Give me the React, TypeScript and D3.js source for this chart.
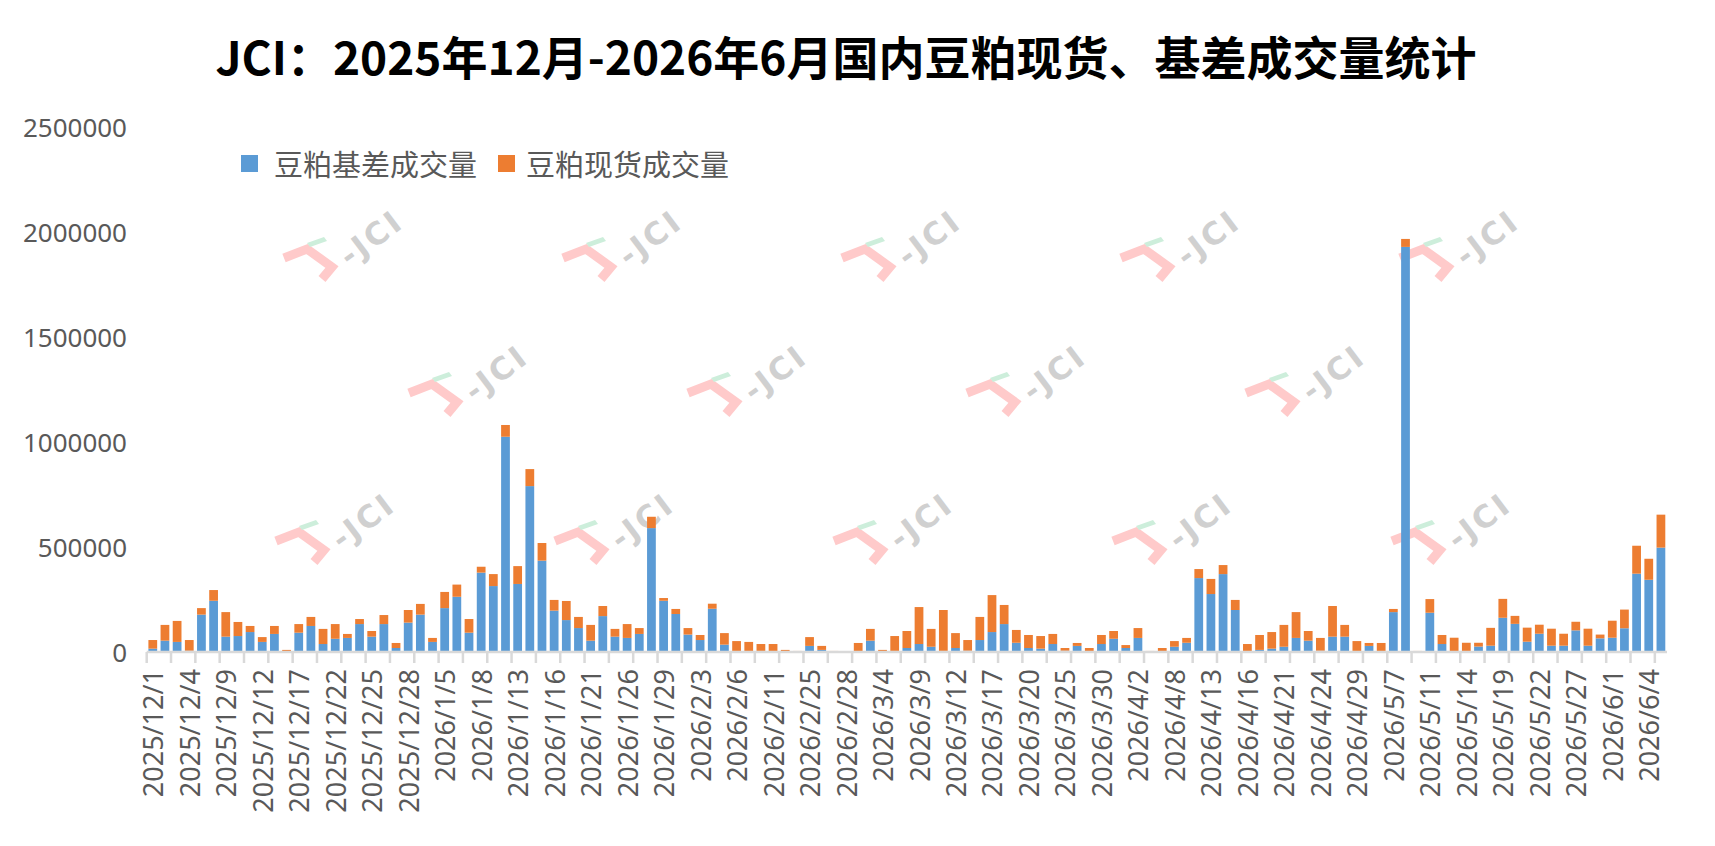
import * as d3 from 'd3';

const dates = [
  '2025/12/1', '2025/12/2', '2025/12/3', '2025/12/4', '2025/12/5', '2025/12/8', '2025/12/9', '2025/12/10',
  '2025/12/11', '2025/12/12', '2025/12/15', '2025/12/16', '2025/12/17', '2025/12/18', '2025/12/19', '2025/12/22',
  '2025/12/23', '2025/12/24', '2025/12/25', '2025/12/26', '2025/12/27', '2025/12/28', '2025/12/30', '2025/12/31',
  '2026/1/5', '2026/1/6', '2026/1/7', '2026/1/8', '2026/1/9', '2026/1/12', '2026/1/13', '2026/1/14',
  '2026/1/15', '2026/1/16', '2026/1/19', '2026/1/20', '2026/1/21', '2026/1/22', '2026/1/23', '2026/1/26',
  '2026/1/27', '2026/1/28', '2026/1/29', '2026/1/30', '2026/2/2', '2026/2/3', '2026/2/4', '2026/2/5',
  '2026/2/6', '2026/2/9', '2026/2/10', '2026/2/11', '2026/2/12', '2026/2/24', '2026/2/25', '2026/2/26',
  '2026/2/27', '2026/2/28', '2026/3/2', '2026/3/3', '2026/3/4', '2026/3/5', '2026/3/6', '2026/3/9',
  '2026/3/10', '2026/3/11', '2026/3/12', '2026/3/13', '2026/3/16', '2026/3/17', '2026/3/18', '2026/3/19',
  '2026/3/20', '2026/3/23', '2026/3/24', '2026/3/25', '2026/3/26', '2026/3/27', '2026/3/30', '2026/3/31',
  '2026/4/1', '2026/4/2', '2026/4/3', '2026/4/7', '2026/4/8', '2026/4/9', '2026/4/10', '2026/4/13',
  '2026/4/14', '2026/4/15', '2026/4/16', '2026/4/17', '2026/4/20', '2026/4/21', '2026/4/22', '2026/4/23',
  '2026/4/24', '2026/4/27', '2026/4/28', '2026/4/29', '2026/4/30', '2026/5/6', '2026/5/7', '2026/5/8',
  '2026/5/9', '2026/5/11', '2026/5/12', '2026/5/13', '2026/5/14', '2026/5/15', '2026/5/18', '2026/5/19',
  '2026/5/20', '2026/5/21', '2026/5/22', '2026/5/25', '2026/5/26', '2026/5/27', '2026/5/28', '2026/5/29',
  '2026/6/1', '2026/6/2', '2026/6/3', '2026/6/4', '2026/6/5',
];

// 豆粕基差成交量 (blue)
const basisVolume = [
  16000, 54000, 48000, 6000, 178000, 244000, 73000, 76000, 95000, 48000,
  86000, 0, 92000, 124000, 38000, 63000, 67000, 133000, 73000, 133000,
  19000, 140000, 178000, 48000, 209000, 263000, 92000, 378000, 314000, 1025000,
  324000, 790000, 435000, 197000, 152000, 114000, 54000, 171000, 73000, 67000,
  86000, 590000, 244000, 181000, 83000, 57000, 206000, 35000, 0, 0,
  5000, 0, 0, 0, 29000, 10000, 0, 0, 0, 54000,
  0, 5000, 19000, 38000, 25000, 5000, 19000, 6000, 57000, 95000,
  133000, 44000, 19000, 16000, 38000, 6000, 29000, 0, 38000, 63000,
  19000, 67000, 0, 0, 25000, 44000, 352000, 276000, 371000, 200000,
  0, 10000, 16000, 25000, 67000, 54000, 6000, 73000, 73000, 0,
  29000, 0, 190000, 1929000, 0, 187000, 38000, 0, 0, 26000,
  30000, 163000, 134000, 49000, 87000, 30000, 30000, 103000, 30000, 65000,
  68000, 113000, 373000, 344000, 497000,
];

// 豆粕现货成交量 (orange)
const spotVolume = [
  41000, 75000, 100000, 51000, 31000, 51000, 117000, 67000, 29000, 23000,
  38000, 10000, 41000, 43000, 72000, 70000, 19000, 24000, 27000, 43000,
  24000, 60000, 51000, 19000, 77000, 58000, 65000, 28000, 57000, 56000,
  85000, 81000, 84000, 51000, 91000, 53000, 75000, 48000, 37000, 66000,
  28000, 54000, 13000, 24000, 31000, 24000, 24000, 55000, 52000, 48000,
  33000, 38000, 10000, 5000, 42000, 19000, 5000, 0, 43000, 56000,
  10000, 71000, 81000, 176000, 85000, 195000, 71000, 51000, 110000, 176000,
  91000, 61000, 62000, 60000, 48000, 13000, 14000, 19000, 43000, 37000,
  14000, 47000, 5000, 19000, 27000, 23000, 43000, 72000, 43000, 48000,
  38000, 71000, 79000, 104000, 123000, 46000, 61000, 146000, 56000, 52000,
  14000, 43000, 15000, 38000, 5000, 65000, 43000, 68000, 44000, 18000,
  85000, 90000, 38000, 67000, 43000, 81000, 57000, 41000, 81000, 18000,
  81000, 89000, 133000, 100000, 157000,
];

const yTicks = [0, 500000, 1000000, 1500000, 2000000, 2500000];
const seriesNames = ['豆粕基差成交量', '豆粕现货成交量'];
const seriesColors = ['#5B9BD5', '#ED7D31'];
const title = 'JCI：2025年12月-2026年6月国内豆粕现货、基差成交量统计';

const W = 1715;
const H = 846;
const plotLeft = 146.7;
const plotRight = 1667;
const plotTop = 127;
const plotBottom = 652;
const font = '"Noto Sans", "Noto Sans CJK SC", sans-serif';
const textColor = '#595959';

type Row = { date: string; basis: number; spot: number };
const rows: Row[] = dates.map((d, i) => ({ date: d, basis: basisVolume[i], spot: spotVolume[i] }));

function Watermark({ cx, cy }: { cx: number; cy: number }) {
  return (
    <g transform={`translate(${cx},${cy})`}>
      <polyline
        points="-61,16 -38,7 -13,25 -23,37"
        fill="none"
        stroke="#ffcaca"
        strokeWidth={9}
        strokeLinejoin="miter"
      />
      <path d="M-38,1 L-21,-5 L-18,-1 L-35,5 Z" fill="#cdeedb" />
      <text
        x={26}
        y={-4}
        transform="rotate(-37 26 -4)"
        textAnchor="middle"
        dominantBaseline="central"
        fontFamily='"DejaVu Sans", sans-serif'
        fontWeight="bold"
        fontSize={31}
        letterSpacing={3}
        fill="#d0d0d0"
      >
        -JCI
      </text>
    </g>
  );
}

export default function App() {
  const x = d3.scaleBand<string>()
    .domain(dates)
    .range([plotLeft, plotRight])
    .paddingInner(0.28)
    .paddingOuter(0.14);

  const y = d3.scaleLinear()
    .domain([0, 2500000])
    .range([plotBottom, plotTop]);

  const stacked = d3.stack<Row>().keys(['basis', 'spot'])(rows);

  const step = x.step();
  const tickXs = d3.range(0, dates.length, 2).map((k) => plotLeft + k * step);

  const wmRows = [
    { cy: 242, x0: 345, n: 5 },
    { cy: 377, x0: 470, n: 4 },
    { cy: 525, x0: 337, n: 5 },
  ];

  const legendPos = [
    { sx: 241, tx: 274 },
    { sx: 498, tx: 526 },
  ];

  return (
    <svg
      width={W}
      height={H}
      viewBox={`0 0 ${W} ${H}`}
      style={{ position: 'absolute', left: 0, top: 0, background: '#fff' }}
    >
      <rect width={W} height={H} fill="#fff" />
      <text
        x={846}
        y={55}
        textAnchor="middle"
        dominantBaseline="central"
        fontFamily='"Noto Sans CJK SC", sans-serif'
        fontWeight="bold"
        fontSize={46}
        fill="#000"
      >
        {title}
      </text>

      {/* watermark grid */}
      {wmRows.map((r, ri) =>
        d3.range(r.n).map((k) => (
          <Watermark key={`${ri}-${k}`} cx={r.x0 + k * 279} cy={r.cy} />
        )),
      )}

      {/* y axis labels */}
      {yTicks.map((t) => (
        <text
          key={t}
          x={127}
          y={y(t)}
          textAnchor="end"
          dominantBaseline="central"
          fontFamily={font}
          fontSize={26}
          fill={textColor}
        >
          {t}
        </text>
      ))}

      {/* bars */}
      {stacked.map((s, si) => (
        <g key={s.key} fill={seriesColors[si]}>
          {s.map((d, i) => (
            <rect
              key={i}
              x={x(dates[i])}
              width={x.bandwidth()}
              y={y(d[1])}
              height={Math.max(0, y(d[0]) - y(d[1]))}
            />
          ))}
        </g>
      ))}

      {/* x axis */}
      <line x1={plotLeft} x2={plotRight} y1={plotBottom} y2={plotBottom} stroke="#d9d9d9" strokeWidth={2.5} />
      {tickXs.map((tx) => (
        <line key={tx} x1={tx} x2={tx} y1={plotBottom} y2={plotBottom + 11} stroke="#d9d9d9" strokeWidth={2.5} />
      ))}
      {dates.map((d, i) => (i % 3 === 0 ? (
        <text
          key={d}
          transform={`translate(${x(d)! + x.bandwidth() / 2},${plotBottom + 17}) rotate(-90)`}
          textAnchor="end"
          dominantBaseline="central"
          fontFamily={font}
          fontSize={27}
          fill={textColor}
        >
          {d}
        </text>
      ) : null))}

      {/* legend */}
      {seriesNames.map((name, i) => (
        <g key={name} transform="translate(0,164)">
          <rect x={legendPos[i].sx} y={-9} width={17} height={17} fill={seriesColors[i]} />
          <text
            x={legendPos[i].tx}
            y={0}
            dominantBaseline="central"
            fontFamily={font}
            fontSize={29}
            fill={textColor}
          >
            {name}
          </text>
        </g>
      ))}
    </svg>
  );
}
